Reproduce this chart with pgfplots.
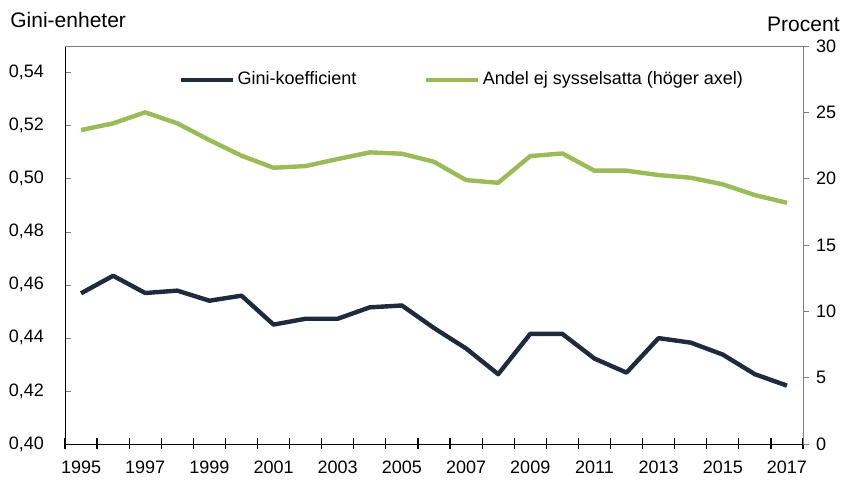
\documentclass[border=0pt]{standalone}
\usepackage{fontspec}
\setmainfont{Liberation Sans}
\usepackage{pgfplots}
\pgfplotsset{compat=1.18}
\definecolor{gininavy}{HTML}{1F2A3C}
\definecolor{andelgreen}{HTML}{9BBB59}

\begin{document}
\begin{tikzpicture}
\useasboundingbox (-32.5pt,-18pt) rectangle (389pt,222pt);
\pgfplotsset{every axis/.append style={
    scale only axis, width=369pt, height=199pt,
    xmin=1994.5, xmax=2017.5,
    font=\fontsize{9}{11}\selectfont,
}}

% left axis: Gini
\begin{axis}[
    ymin=0.40, ymax=0.55,
    axis x line*=bottom, axis y line*=left,
    ytick={0.40,0.42,0.44,0.46,0.48,0.50,0.52,0.54},
    yticklabels={{0,40},{0,42},{0,44},{0,46},{0,48},{0,50},{0,52},{0,54}},
    yticklabel style={xshift=-7pt},
    ytick align=inside,
    major tick length=3pt,
    xtick={1995,1997,...,2017},
    xticklabels={1995,1997,1999,2001,2003,2005,2007,2009,2011,2013,2015,2017},
    xticklabel style={yshift=-5pt},
    major x tick style={draw=none},
    legend style={at={(0.153,0.915)}, anchor=west, draw=none, fill=none,
        inner sep=0pt, nodes={inner xsep=1.5pt},
        legend columns=2, /tikz/every even column/.append style={column sep=32pt}},
    legend image code/.code={\draw[#1] (0pt,0pt) -- (26pt,0pt);},
]
\addplot[gininavy, line width=2.2pt, line join=round] coordinates {
(1995,0.4568) (1996,0.4634) (1997,0.4569) (1998,0.4578) (1999,0.4540)
(2000,0.4559) (2001,0.4450) (2002,0.4472) (2003,0.4472) (2004,0.4515)
(2005,0.4522) (2006,0.4437) (2007,0.4360) (2008,0.4263) (2009,0.4415)
(2010,0.4415) (2011,0.4322) (2012,0.4269) (2013,0.4399) (2014,0.4382)
(2015,0.4337) (2016,0.4263) (2017,0.4220)
};
\addlegendentry{Gini-koefficient}
\addlegendimage{andelgreen, line width=2.2pt}
\addlegendentry{Andel ej sysselsatta (höger axel)}
\end{axis}

% category boundary ticks on the x axis
\begin{axis}[
    ymin=0, ymax=1,
    axis x line*=bottom, axis y line=none,
    xtick={1994.5,1995.5,...,2017.5},
    xticklabels={},
    xtick align=center,
    major tick length=5.5pt,
    major x tick style={black, line width=0.6pt},
]
\end{axis}

% right axis: share not employed
\begin{axis}[
    ymin=0, ymax=30,
    axis x line*=top, axis y line*=right,
    axis line style={gray},
    xtick=\empty,
    ytick={0,5,...,30},
    yticklabels={0,5,10,15,20,25,30},
    ytick align=outside,
    major tick length=3pt,
    major y tick style={gray},
]
\addplot[andelgreen, line width=2.2pt, line join=round] coordinates {
(1995,23.66) (1996,24.17) (1997,25.00) (1998,24.17) (1999,22.91)
(2000,21.73) (2001,20.82) (2002,20.95) (2003,21.48) (2004,21.98)
(2005,21.88) (2006,21.27) (2007,19.89) (2008,19.69) (2009,21.70)
(2010,21.90) (2011,20.60) (2012,20.60) (2013,20.27) (2014,20.07)
(2015,19.57) (2016,18.76) (2017,18.18)
};
\end{axis}

\node[anchor=west, inner sep=0pt, font=\fontsize{10.5}{12}\selectfont] at (-27.5pt,212pt) {Gini-enheter};
\node[anchor=east, inner sep=0pt, font=\fontsize{10.5}{12}\selectfont] at (387.5pt,210pt) {Procent};
\end{tikzpicture}
\end{document}
